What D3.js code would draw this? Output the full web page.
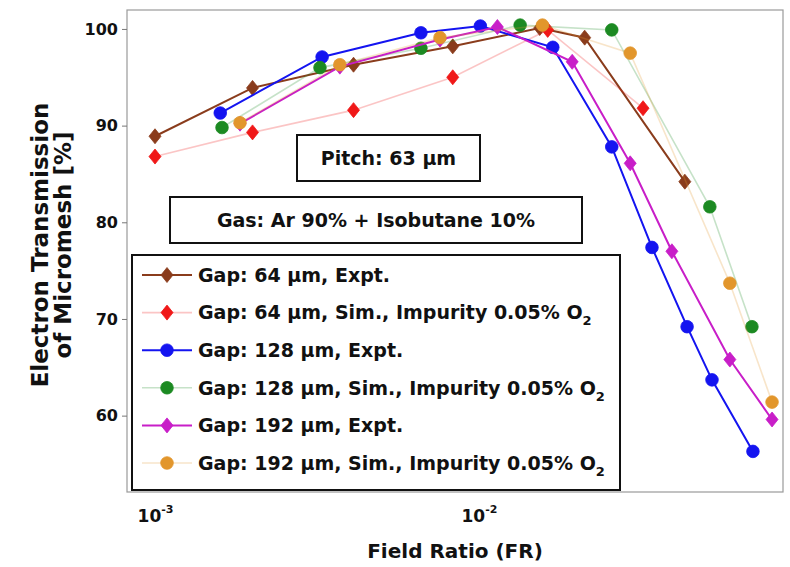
<!DOCTYPE html>
<html><head><meta charset="utf-8">
<script src="https://cdnjs.cloudflare.com/ajax/libs/d3/7.8.5/d3.min.js"></script>
<style>
body{margin:0;background:#fff;}
text{font-family:"DejaVu Sans",sans-serif;font-weight:bold;fill:#111;}
</style>
</head><body>
<svg id="c" width="790" height="567"></svg>
<script>
// ---- data ----
const brownFR   = [0.001, 0.002, 0.0041, 0.0083, 0.0154, 0.0212, 0.0432];
const brownT    = [88.9, 93.9, 96.3, 98.2, 100.1, 99.1, 84.2];
const redFR     = [0.001, 0.002, 0.0041, 0.0083, 0.0163, 0.0321];
const redT      = [86.8, 89.3, 91.6, 95.0, 99.9, 91.8];
const blueFR    = [0.00159, 0.00328, 0.00662, 0.0101, 0.0169, 0.0257, 0.0342, 0.0439, 0.0524, 0.0701];
const blueT     = [91.3, 97.1, 99.6, 100.3, 98.1, 87.8, 77.4, 69.2, 63.7, 56.3];
const greenFR   = [0.00161, 0.00323, 0.00662, 0.0134, 0.0257, 0.0516, 0.0696];
const greenT    = [89.8, 96.0, 98.0, 100.4, 99.9, 81.6, 69.2];
const magentaFR = [0.00183, 0.00372, 0.00758, 0.0114, 0.0194, 0.0293, 0.0394, 0.0595, 0.0803];
const magentaT  = [90.2, 96.1, 98.9, 100.2, 96.6, 86.1, 77.0, 65.8, 59.6];
const orangeFR  = [0.00183, 0.00372, 0.00758, 0.0157, 0.0293, 0.0595, 0.0803];
const orangeT   = [90.3, 96.3, 99.1, 100.4, 97.5, 73.7, 61.4];

const legendLabels = [
  "Gap: 64 \u03bcm, Expt.",
  "Gap: 64 \u03bcm, Sim., Impurity 0.05% O",
  "Gap: 128 \u03bcm, Expt.",
  "Gap: 128 \u03bcm, Sim., Impurity 0.05% O",
  "Gap: 192 \u03bcm, Expt.",
  "Gap: 192 \u03bcm, Sim., Impurity 0.05% O"
];
const yTicks = [60, 70, 80, 90, 100];
const xTicks = [0.001, 0.01];
const xTickExp = ["-3", "-2"];
const pitchText = "Pitch: 63 \u03bcm";
const gasText = "Gas: Ar 90% + Isobutane 10%";
const xTitle = "Field Ratio (FR)";
const yTitle1 = "Electron Transmission";
const yTitle2 = "of Micromesh [%]";

// ---- styling ----
const series = [
  {fr: brownFR,   t: brownT,   color: "#8a3c1c", marker: "diamond", sim: false},
  {fr: redFR,     t: redT,     color: "#f01818", marker: "diamond", sim: true},
  {fr: blueFR,    t: blueT,    color: "#1414f0", marker: "circle",  sim: false},
  {fr: greenFR,   t: greenT,   color: "#1c8a22", marker: "circle",  sim: true},
  {fr: magentaFR, t: magentaT, color: "#c81ec8", marker: "diamond", sim: false},
  {fr: orangeFR,  t: orangeT,  color: "#e2962c", marker: "circle",  sim: true}
];

const svg = d3.select("#c");
const L = 127, R = 783, T = 10, B = 492;
const x = d3.scaleLog().domain([8.195e-4, 0.0868]).range([L, R]);
const y = d3.scaleLinear().domain([52.1, 101.96]).range([B, T]);

svg.append("rect").attr("x", 0).attr("y", 0).attr("width", 790).attr("height", 567).attr("fill", "#fff");

// plot box
svg.append("rect").attr("x", L).attr("y", T).attr("width", R - L).attr("height", B - T)
  .attr("fill", "#fff").attr("stroke", "#9a9a9a").attr("stroke-width", 1.2);

// y axis
const yAxis = d3.axisLeft(y).tickValues(yTicks).tickSize(5).tickPadding(4).tickFormat(d3.format("d"));
const gy = svg.append("g").attr("transform", `translate(${L},0)`).call(yAxis);
gy.select(".domain").remove();
gy.selectAll(".tick line").attr("stroke", "#777");
gy.selectAll(".tick text").style("font-size", "16px").attr("fill", "#111");

// x axis
const xAxis = d3.axisBottom(x).tickValues(xTicks).tickSize(0).tickFormat(() => "");
const gx = svg.append("g").attr("transform", `translate(0,${B})`).call(xAxis);
gx.select(".domain").remove();
gx.selectAll(".tick").each(function(d, i) {
  const t = d3.select(this).append("text").attr("y", 30).attr("text-anchor", "middle")
    .style("font-size", "17px").attr("fill", "#111");
  t.append("tspan").text("10");
  t.append("tspan").attr("dy", -9).style("font-size", "11px").text(xTickExp[i]);
});

// marker symbols
const diamond = d3.symbol().type({draw(ctx, size) { const w = 6, h = 7.5; ctx.moveTo(0,-h); ctx.lineTo(w,0); ctx.lineTo(0,h); ctx.lineTo(-w,0); ctx.closePath(); }});
const circle = d3.symbol().type(d3.symbolCircle).size(Math.PI * 6.3 * 6.3);

const line = d3.line().x(d => x(d[0])).y(d => y(d[1]));

series.forEach(s => {
  const pts = s.fr.map((f, i) => [f, s.t[i]]);
  svg.append("path").datum(pts).attr("d", line).attr("fill", "none")
    .attr("stroke", s.color).attr("stroke-width", s.sim ? 1.6 : 2)
    .attr("stroke-opacity", s.sim ? 0.25 : 1);
  svg.append("g").selectAll("path").data(pts).join("path")
    .attr("transform", d => `translate(${x(d[0])},${y(d[1])})`)
    .attr("d", s.marker === "diamond" ? diamond() : circle())
    .attr("fill", s.color).attr("stroke", s.color).attr("stroke-width", 0.8);
});

// annotation boxes
function box(x0, y0, w, h, txt) {
  svg.append("rect").attr("x", x0).attr("y", y0).attr("width", w).attr("height", h)
    .attr("fill", "#fff").attr("stroke", "#111").attr("stroke-width", 2);
  svg.append("text").attr("x", x0 + w / 2).attr("y", y0 + h / 2).attr("dy", "0.36em")
    .attr("text-anchor", "middle").style("font-size", "19px").text(txt);
}
box(297, 135, 183, 46, pitchText);
box(170, 197, 412, 46, gasText);

// legend
svg.append("rect").attr("x", 132).attr("y", 255).attr("width", 488).attr("height", 235)
  .attr("fill", "#fff").attr("stroke", "#111").attr("stroke-width", 2);
const rowY = d3.scaleLinear().domain([0, 5]).range([275, 463]);
series.forEach((s, i) => {
  const yy = rowY(i);
  svg.append("line").attr("x1", 142).attr("x2", 192).attr("y1", yy).attr("y2", yy)
    .attr("stroke", s.color).attr("stroke-width", s.sim ? 1.6 : 2)
    .attr("stroke-opacity", s.sim ? 0.25 : 1);
  svg.append("path").attr("transform", `translate(167,${yy})`)
    .attr("d", s.marker === "diamond" ? diamond() : circle())
    .attr("fill", s.color).attr("stroke", s.color).attr("stroke-width", 0.8);
  const t = svg.append("text").attr("x", 198).attr("y", yy).attr("dy", "0.36em").style("font-size", "19px");
  t.append("tspan").text(legendLabels[i]);
  if (s.sim) t.append("tspan").attr("dy", 6).style("font-size", "13px").text("2");
});

// axis titles
svg.append("text").attr("x", 455).attr("y", 558).attr("text-anchor", "middle")
  .style("font-size", "20px").text(xTitle);
const yt = svg.append("text").attr("transform", "translate(0,245) rotate(-90)").attr("text-anchor", "middle")
  .style("font-size", "23px");
yt.append("tspan").attr("x", 0).attr("y", 48).text(yTitle1);
yt.append("tspan").attr("x", 0).attr("y", 71).text(yTitle2);
</script>
</body></html>
